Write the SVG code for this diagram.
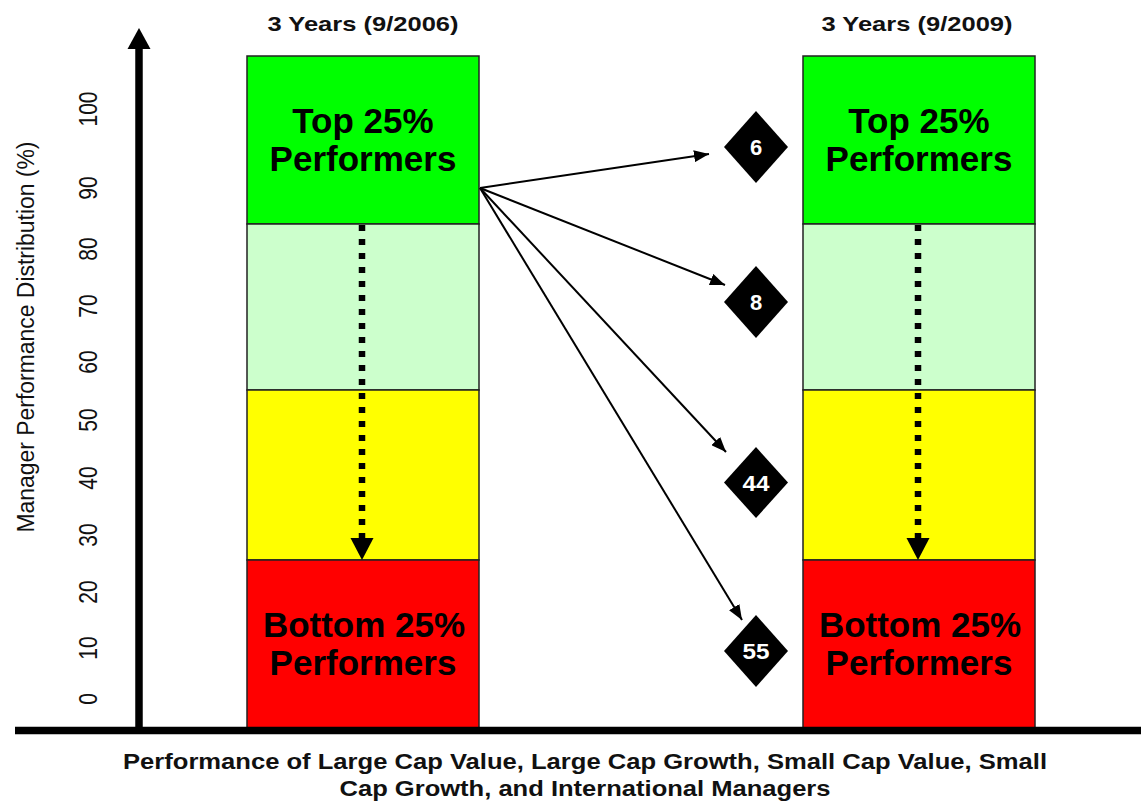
<svg xmlns="http://www.w3.org/2000/svg" width="1141" height="801" viewBox="0 0 1141 801">
  <style>
    .band { stroke: #222; stroke-width: 1.5; }
    .big { font-family: "Liberation Sans", Arial, sans-serif; font-weight: bold; font-size: 35px; fill: #000; text-anchor: middle; }
    .head { font-family: "Liberation Sans", Arial, sans-serif; font-weight: bold; font-size: 21px; fill: #111; text-anchor: middle; }
    .tick { font-family: "Liberation Sans", Arial, sans-serif; font-size: 21px; fill: #111; text-anchor: middle; }
    .ytitle { font-family: "Liberation Sans", Arial, sans-serif; font-size: 23px; fill: #111; text-anchor: middle; }
    .xtitle { font-family: "Liberation Sans", Arial, sans-serif; font-weight: bold; font-size: 22px; fill: #111; text-anchor: middle; }
    .num { font-family: "Liberation Sans", Arial, sans-serif; font-weight: bold; font-size: 22px; fill: #fff; text-anchor: middle; }
    .fan { stroke: #000; stroke-width: 2; fill: none; marker-end: url(#arrow); }
    .drop { stroke: #000; stroke-width: 6.5; stroke-dasharray: 6 8; fill: none; }
  </style>
  <defs>
    <marker id="arrow" viewBox="0 0 15 12" refX="15" refY="6" markerWidth="15" markerHeight="12" markerUnits="userSpaceOnUse" orient="auto">
      <path d="M0,0 L15,6 L0,12 z" fill="#000"/>
    </marker>
  </defs>

  <rect width="1141" height="801" fill="#fff"/>

  <!-- Axes -->
  <g id="axes">
    <line x1="139" y1="47" x2="139" y2="731" stroke="#000" stroke-width="7.5"/>
    <polygon points="139,28 127.5,49 150.5,49" fill="#000"/>
    <g id="y-ticks">
      <text class="tick" transform="translate(97,109) rotate(-90) scale(1,1.25)">100</text>
      <text class="tick" transform="translate(97,188) rotate(-90) scale(1,1.25)">90</text>
      <text class="tick" transform="translate(97,249) rotate(-90) scale(1,1.25)">80</text>
      <text class="tick" transform="translate(97,306) rotate(-90) scale(1,1.25)">70</text>
      <text class="tick" transform="translate(97,362) rotate(-90) scale(1,1.25)">60</text>
      <text class="tick" transform="translate(97,420) rotate(-90) scale(1,1.25)">50</text>
      <text class="tick" transform="translate(97,478) rotate(-90) scale(1,1.25)">40</text>
      <text class="tick" transform="translate(97,535) rotate(-90) scale(1,1.25)">30</text>
      <text class="tick" transform="translate(97,592) rotate(-90) scale(1,1.25)">20</text>
      <text class="tick" transform="translate(97,648) rotate(-90) scale(1,1.25)">10</text>
      <text class="tick" transform="translate(97,699) rotate(-90) scale(1,1.25)">0</text>
    </g>
    <text class="ytitle" transform="translate(33.5,337) rotate(-90)" textLength="391" lengthAdjust="spacingAndGlyphs">Manager Performance Distribution (%)</text>
  </g>

  <!-- 2006 column -->
  <g id="col-2006">
    <text class="head" x="363" y="30.5" textLength="191" lengthAdjust="spacingAndGlyphs">3 Years (9/2006)</text>
    <rect class="band" x="247" y="56" width="232" height="168" fill="#00ff00"/>
    <rect class="band" x="247" y="224" width="232" height="166" fill="#ccffcc"/>
    <rect class="band" x="247" y="390" width="232" height="170" fill="#ffff00"/>
    <rect class="band" x="247" y="560" width="232" height="168" fill="#ff0000"/>
    <text class="big" x="363" y="133">Top 25%</text>
    <text class="big" x="363" y="171">Performers</text>
    <text class="big" x="364" y="637">Bottom 25%</text>
    <text class="big" x="363" y="675">Performers</text>
  </g>

  <!-- 2009 column -->
  <g id="col-2009">
    <text class="head" x="917" y="30.5" textLength="191" lengthAdjust="spacingAndGlyphs">3 Years (9/2009)</text>
    <rect class="band" x="803" y="56" width="232" height="168" fill="#00ff00"/>
    <rect class="band" x="803" y="224" width="232" height="166" fill="#ccffcc"/>
    <rect class="band" x="803" y="390" width="232" height="170" fill="#ffff00"/>
    <rect class="band" x="803" y="560" width="232" height="168" fill="#ff0000"/>
    <text class="big" x="919" y="133">Top 25%</text>
    <text class="big" x="919" y="171">Performers</text>
    <text class="big" x="920" y="637">Bottom 25%</text>
    <text class="big" x="919" y="675">Performers</text>
  </g>

  <!-- Manager counts -->
  <g id="count-6">
    <polygon points="756,111 788,147 756,183 724,147" fill="#000"/>
    <text class="num" x="756" y="155">6</text>
  </g>
  <g id="count-8">
    <polygon points="756,266 788,302 756,338 724,302" fill="#000"/>
    <text class="num" x="756" y="310">8</text>
  </g>
  <g id="count-44">
    <polygon points="756,447 788,482.5 756,518 724,482.5" fill="#000"/>
    <text class="num" x="756" y="490.5" textLength="27" lengthAdjust="spacingAndGlyphs">44</text>
  </g>
  <g id="count-55">
    <polygon points="756,615 788,651 756,687 724,651" fill="#000"/>
    <text class="num" x="756" y="659" textLength="27" lengthAdjust="spacingAndGlyphs">55</text>
  </g>

  <!-- Connectors -->
  <g id="connectors">
    <line class="fan" x1="480" y1="188" x2="709" y2="154"/>
    <line class="fan" x1="480" y1="188" x2="725" y2="285"/>
    <line class="fan" x1="480" y1="188" x2="726" y2="452"/>
    <line class="fan" x1="480" y1="188" x2="742" y2="620"/>
    <line class="drop" x1="362" y1="225" x2="362" y2="540"/>
    <polygon points="350.5,538 373.5,538 362,560" fill="#000"/>
    <line class="drop" x1="918" y1="225" x2="918" y2="540"/>
    <polygon points="906.5,538 929.5,538 918,560" fill="#000"/>
  </g>

  <!-- Baseline axis and caption -->
  <g id="x-axis">
    <line x1="15" y1="730.5" x2="1141" y2="730.5" stroke="#000" stroke-width="7.5"/>
    <text class="xtitle" x="585" y="769" textLength="924" lengthAdjust="spacingAndGlyphs">Performance of Large Cap Value, Large Cap Growth, Small Cap Value, Small</text>
    <text class="xtitle" x="585" y="796" textLength="491" lengthAdjust="spacingAndGlyphs">Cap Growth, and International Managers</text>
  </g>
</svg>
